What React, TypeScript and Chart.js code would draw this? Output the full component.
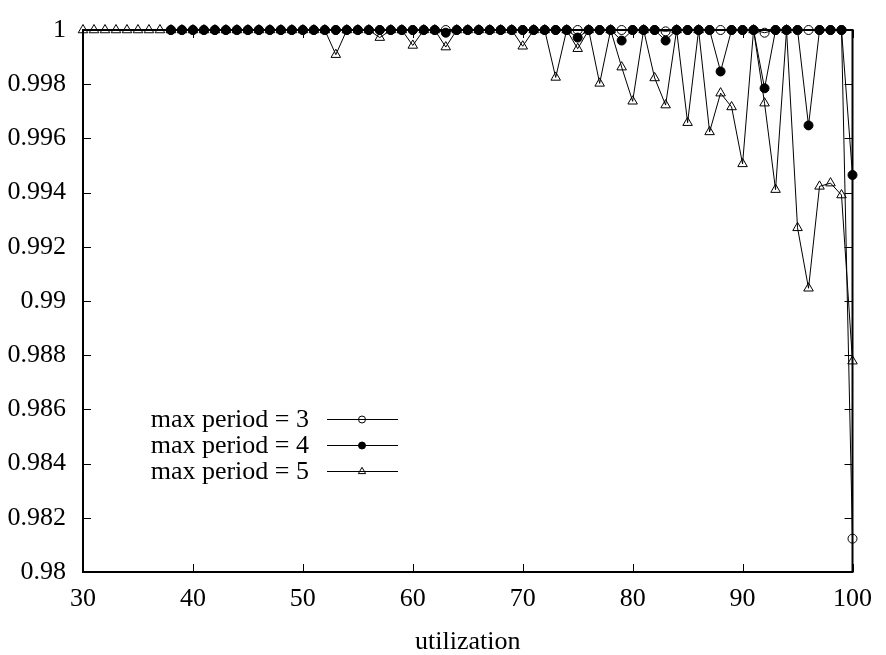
import React, { useEffect, useRef } from 'react';
import { Chart, registerables } from 'chart.js';

Chart.register(...registerables);

// ---- data ----
const utilization = [
  30, 31, 32, 33, 34, 35, 36, 37, 38, 39,
  40, 41, 42, 43, 44, 45, 46, 47, 48, 49,
  50, 51, 52, 53, 54, 55, 56, 57, 58, 59,
  60, 61, 62, 63, 64, 65, 66, 67, 68, 69,
  70, 71, 72, 73, 74, 75, 76, 77, 78, 79,
  80, 81, 82, 83, 84, 85, 86, 87, 88, 89,
  90, 91, 92, 93, 94, 95, 96, 97, 98, 99,
  100,
];

const seriesLabels = ['max period = 3', 'max period = 4', 'max period = 5'];

const period3 = [
  null, null, null, null, null, null, null, null, 1, 1,
  1, 1, 1, 1, 1, 1, 1, 1, 1, 1,
  1, 1, 1, 1, 1, 1, 1, 1, 1, 1,
  1, 1, 1, 1, 1, 1, 1, 1, 1, 1,
  1, 1, 1, 1, 1, 1, 1, 1, 1, 1,
  1, 1, 1, 0.99995, 1, 1, 1, 1, 1, 1,
  1, 1, 0.9999, 1, 1, 1, 1, 1, 1, 1,
  0.98123,
];

const period4 = [
  null, null, null, null, null, null, null, null, 1, 1,
  1, 1, 1, 1, 1, 1, 1, 1, 1, 1,
  1, 1, 1, 1, 1, 1, 1, 1, 1, 1,
  1, 1, 1, 0.9999, 1, 1, 1, 1, 1, 1,
  1, 1, 1, 1, 1, 0.99972, 1, 1, 1, 0.99961,
  1, 1, 1, 0.99961, 1, 1, 1, 1, 0.99847, 1,
  1, 1, 0.99785, 1, 1, 1, 0.99648, 1, 1, 1,
  0.99465,
];

const period5 = [
  1, 1, 1, 1, 1, 1, 1, 1, 1, 1,
  1, 1, 1, 1, 1, 1, 1, 1, 1, 1,
  1, 1, 1, 0.99909, 1, 1, 1, 0.99972, 1, 1,
  0.99943, 1, 1, 0.99937, 1, 1, 1, 1, 1, 1,
  0.9994, 1, 1, 0.99825, 1, 0.99931, 1, 0.99803, 1, 0.99863,
  0.99737, 1, 0.99823, 0.99723, 1, 0.99658, 1, 0.99624, 0.99767, 0.99716,
  0.99506, 1, 0.9973, 0.99411, 1, 0.9927, 0.99047, 0.99423, 0.99435, 0.99391,
  0.98778,
];

const xTicks = [30, 40, 50, 60, 70, 80, 90, 100];
const yTicks = [0.98, 0.982, 0.984, 0.986, 0.988, 0.99, 0.992, 0.994, 0.996, 0.998, 1];

// ---- styles ----
const FONT = '"Liberation Serif", "Times New Roman", serif';
const INK = '#000';

const markerStyles = [
  { pointStyle: 'circle', radius: 4.5, fill: 'rgba(0,0,0,0)', legendRadius: 3.5 },
  { pointStyle: 'circle', radius: 4.5, fill: '#000', legendRadius: 3.5 },
  { pointStyle: 'triangle', radius: 5.5, fill: 'rgba(0,0,0,0)', legendRadius: 4.2 },
];

const framePlugin = {
  id: 'frame',
  beforeDatasetsDraw(chart: any) {
    const { ctx, chartArea } = chart;
    const { left, right, top, bottom } = chartArea;
    const xs = chart.scales.x;
    const ys = chart.scales.y;
    const tl = 8;
    ctx.save();
    ctx.strokeStyle = INK;
    ctx.lineWidth = 1;
    ctx.beginPath();
    xTicks.forEach((v) => {
      const px = Math.round(xs.getPixelForValue(v)) + 0.5;
      ctx.moveTo(px, bottom);
      ctx.lineTo(px, bottom - tl);
      ctx.moveTo(px, top);
      ctx.lineTo(px, top + tl);
    });
    yTicks.forEach((v) => {
      const py = Math.round(ys.getPixelForValue(v)) + 0.5;
      ctx.moveTo(left, py);
      ctx.lineTo(left + tl, py);
      ctx.moveTo(right, py);
      ctx.lineTo(right - tl, py);
    });
    ctx.stroke();
    ctx.lineWidth = 2;
    ctx.strokeRect(left, top, right - left, bottom - top);
    ctx.restore();
  },
};

function drawMarker(ctx: CanvasRenderingContext2D, idx: number, x: number, y: number) {
  const m = markerStyles[idx];
  const r = m.legendRadius;
  ctx.beginPath();
  if (m.pointStyle === 'triangle') {
    ctx.moveTo(x, y - r);
    ctx.lineTo(x + r * 0.866, y + r * 0.5);
    ctx.lineTo(x - r * 0.866, y + r * 0.5);
    ctx.closePath();
  } else {
    ctx.arc(x, y, r, 0, Math.PI * 2);
  }
  if (m.fill !== 'rgba(0,0,0,0)') {
    ctx.fillStyle = m.fill;
    ctx.fill();
  }
  ctx.stroke();
}

const legendPlugin = {
  id: 'insideLegend',
  afterDatasetsDraw(chart: any) {
    const { ctx } = chart;
    ctx.save();
    ctx.font = `26px ${FONT}`;
    ctx.textAlign = 'right';
    ctx.textBaseline = 'middle';
    chart.data.datasets.forEach((ds: any, i: number) => {
      const y = 419 + i * 26;
      ctx.fillStyle = INK;
      ctx.fillText(ds.label, 309, y + 1);
      ctx.strokeStyle = INK;
      ctx.lineWidth = 1;
      ctx.beginPath();
      ctx.moveTo(327, y + 0.5);
      ctx.lineTo(398, y + 0.5);
      ctx.stroke();
      drawMarker(ctx, i, 362, y + 0.5);
    });
    ctx.restore();
  },
};

export default function App() {
  const ref = useRef<HTMLCanvasElement>(null);

  useEffect(() => {
    if (!ref.current) return;
    const series = [period3, period4, period5];
    const datasets = series.map((arr, i) => ({
      label: seriesLabels[i],
      data: utilization.map((x, j) => ({ x, y: arr[j] })),
      borderColor: INK,
      borderWidth: 1,
      pointStyle: markerStyles[i].pointStyle,
      pointRadius: markerStyles[i].radius,
      pointBackgroundColor: markerStyles[i].fill,
      pointBorderColor: INK,
      pointBorderWidth: 1,
      tension: 0,
      fill: false,
      clip: false,
      order: 3 - i,
    }));

    const chart = new Chart(ref.current, {
      type: 'line',
      data: { datasets } as any,
      options: {
        animation: false,
        responsive: true,
        maintainAspectRatio: false,
        layout: { padding: { top: 14, right: 29, left: 0, bottom: 0 } },
        plugins: { legend: { display: false }, tooltip: { enabled: false } },
        scales: {
          x: {
            type: 'linear',
            min: 30,
            max: 100,
            grid: { display: false, drawTicks: false },
            border: { display: false },
            afterBuildTicks: (s: any) => {
              s.ticks = xTicks.map((v) => ({ value: v }));
            },
            afterFit: (s: any) => {
              s.height = 83;
            },
            ticks: {
              color: INK,
              padding: 14,
              maxRotation: 0,
              autoSkip: false,
              font: { family: FONT, size: 26, lineHeight: 1 },
              callback: (v: any) => String(v),
            },
            title: {
              display: true,
              text: 'utilization',
              color: INK,
              padding: 0,
              font: { family: FONT, size: 26, lineHeight: 1 },
            },
          },
          y: {
            type: 'linear',
            min: 0.98,
            max: 1,
            grid: { display: false, drawTicks: false },
            border: { display: false },
            afterBuildTicks: (s: any) => {
              s.ticks = yTicks.map((v) => ({ value: v }));
            },
            afterFit: (s: any) => {
              s.width = 83;
            },
            ticks: {
              color: INK,
              padding: 17,
              autoSkip: false,
              font: { family: FONT, size: 26, lineHeight: 1 },
              callback: (v: any) => String(+Number(v).toFixed(3)),
            },
          },
        },
      } as any,
      plugins: [framePlugin, legendPlugin],
    });
    return () => chart.destroy();
  }, []);

  return (
    <div style={{ position: 'absolute', left: 0, top: 0, width: 886, height: 655, background: '#fff' }}>
      <canvas ref={ref} />
    </div>
  );
}
